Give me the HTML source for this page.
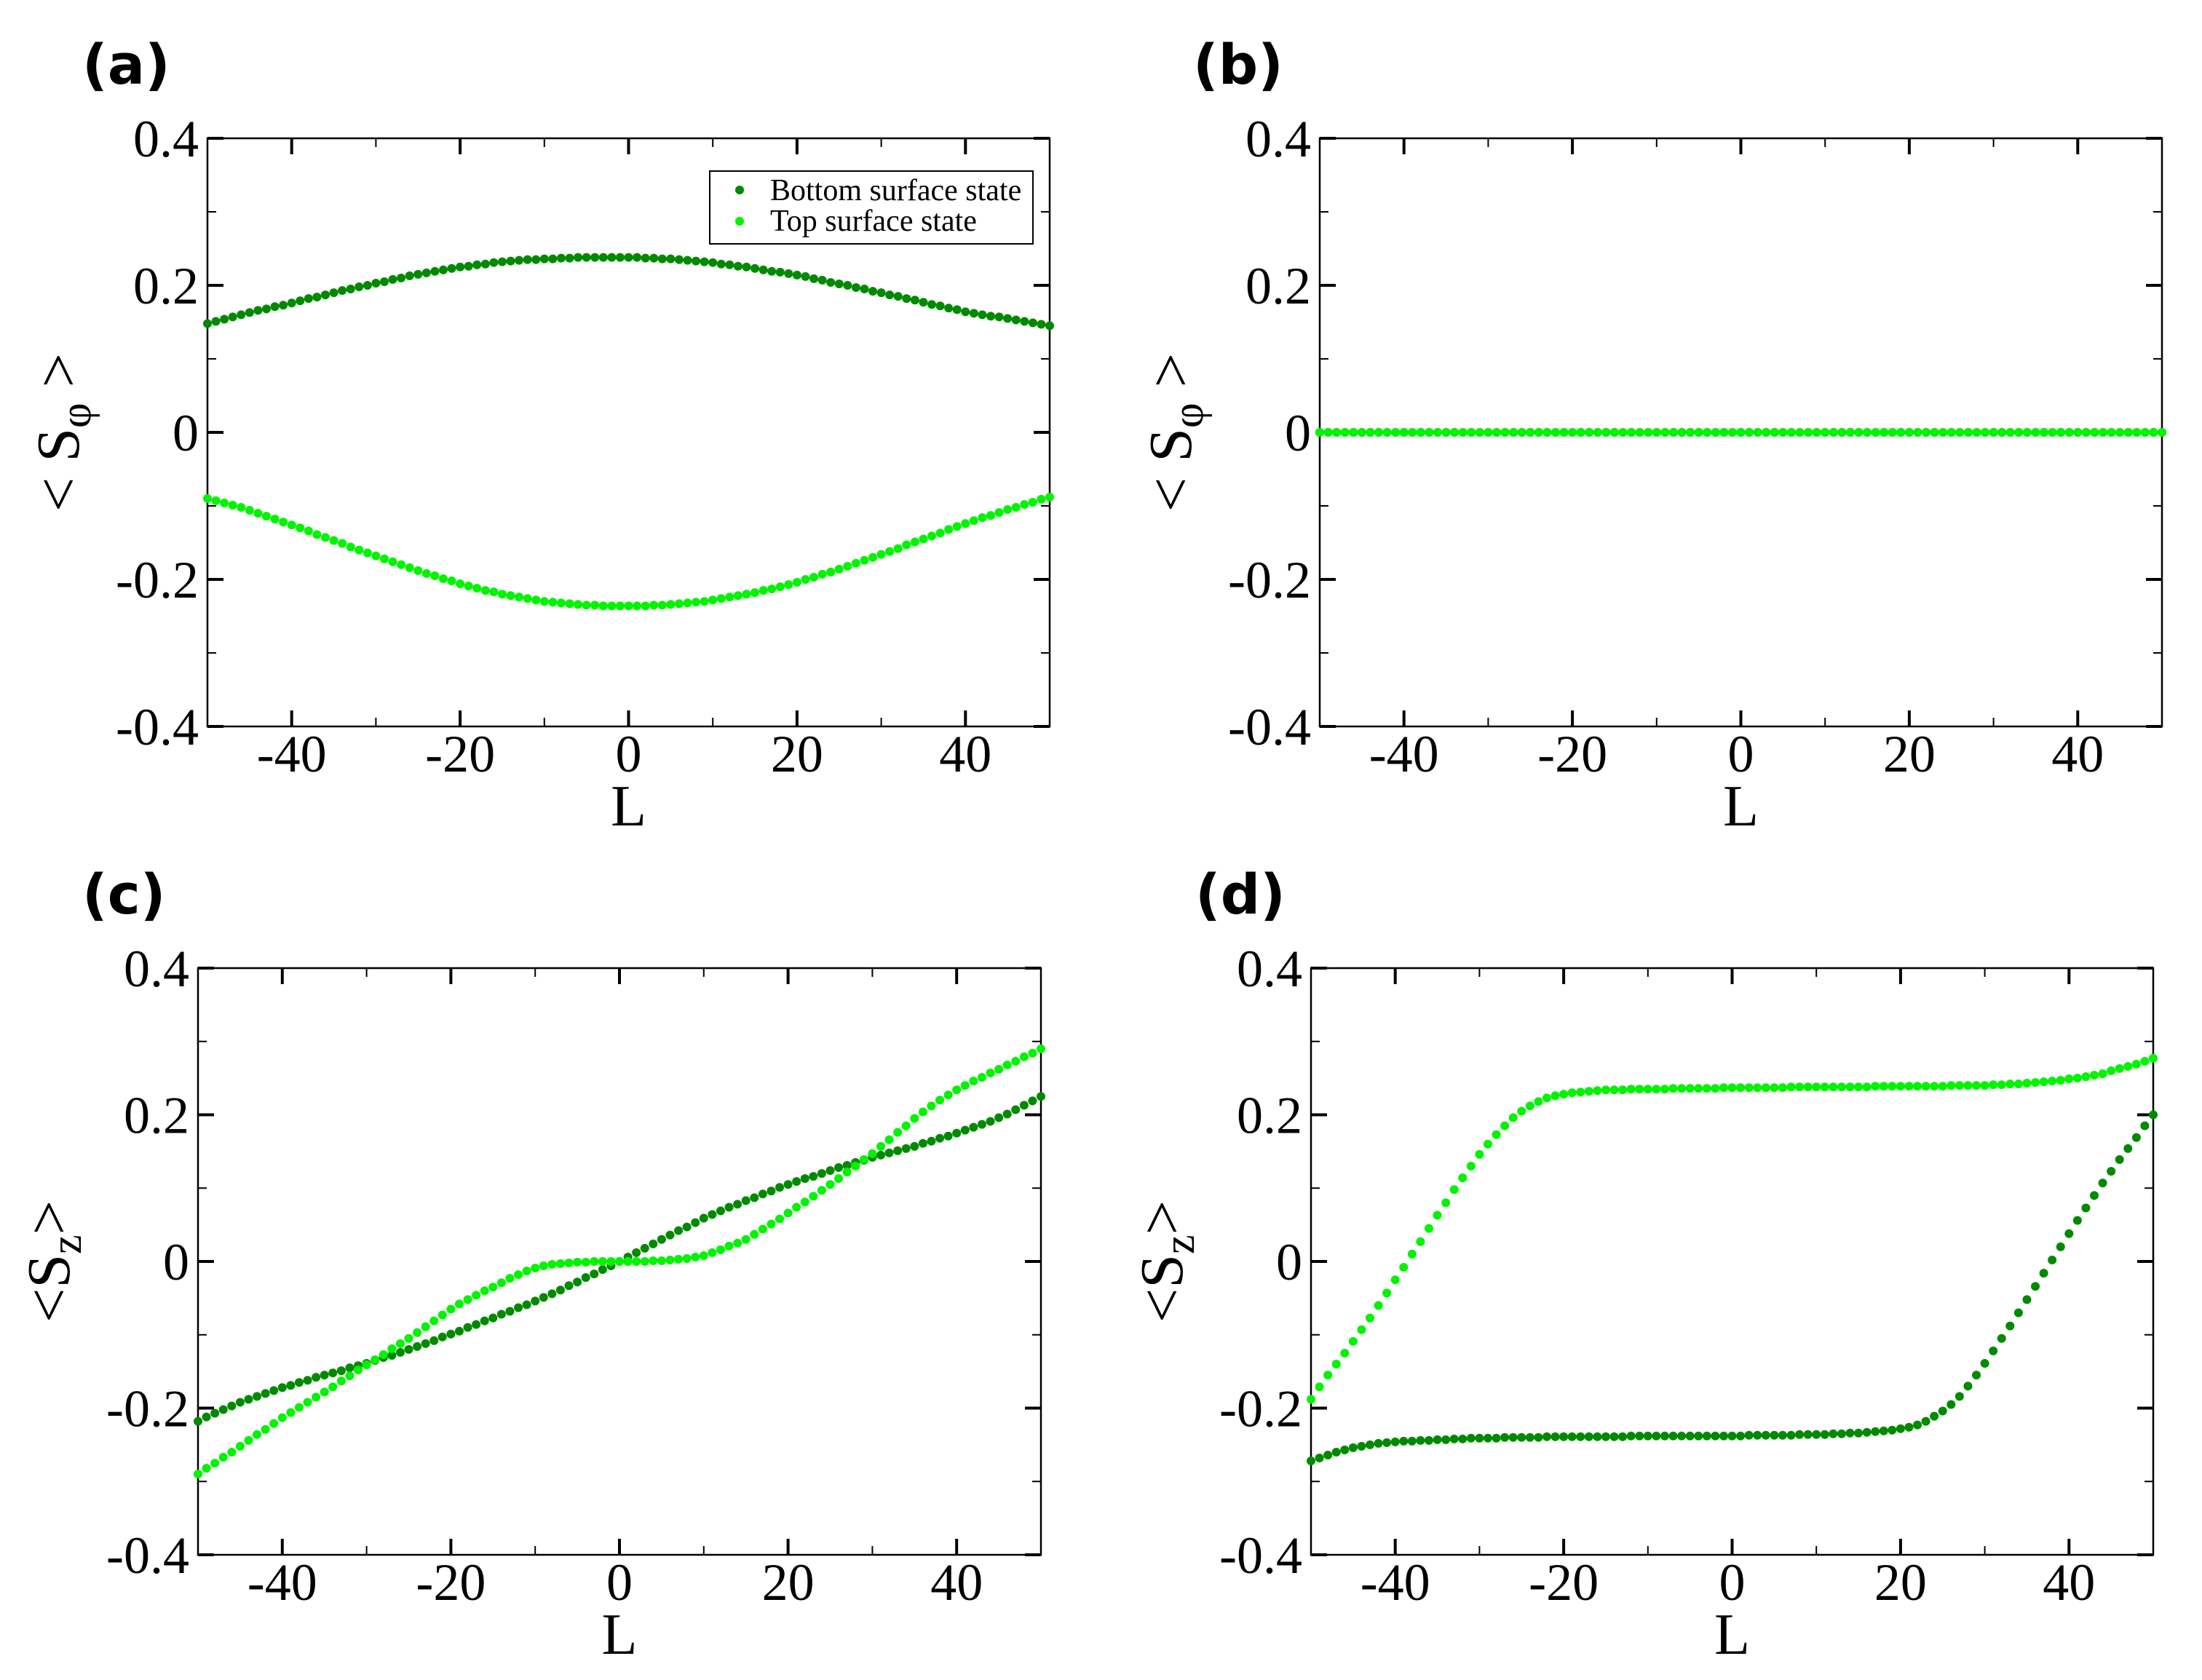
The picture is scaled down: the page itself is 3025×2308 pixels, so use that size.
<!DOCTYPE html>
<html><head><meta charset="utf-8">
<style>
html,body{margin:0;padding:0;background:#fff;}
svg{display:block;}
text{font-family:"Liberation Serif",serif;}
.plab{font-family:"DejaVu Sans","Liberation Sans",sans-serif;font-weight:bold;font-size:76px;}
</style></head>
<body>
<svg id="fig" width="3025" height="2308" viewBox="0 0 3025 2308" xmlns="http://www.w3.org/2000/svg"></svg>
<script>
const Lvals = [];
for (let i = -50; i <= 50; i++) Lvals.push(i);
const xTicks = [-40,-20,0,20,40];
const xTickLabels = ["-40","-20","0","20","40"];
const yTicks = [0.4,0.2,0,-0.2,-0.4];
const yTickLabels = ["0.4","0.2","0","-0.2","-0.4"];
const seriesNames = ["Bottom surface state","Top surface state"];

const aBottom = [.148,.151,.154,.157,.160,.163,.166,.168,.171,.173,.176,.179,.182,.184,.187,.190,.193,.195,.198,.200,.203,.205,.208,.210,.213,.215,.217,.219,.221,.223,.225,.226,.228,.229,.231,.232,.233,.234,.235,.235,.236,.236,.237,.237,.238,.238,.238,.238,.238,.238,.238,.238,.237,.237,.236,.236,.235,.234,.233,.232,.231,.229,.228,.226,.225,.223,.221,.219,.218,.216,.214,.212,.209,.207,.204,.202,.200,.197,.195,.192,.190,.187,.185,.182,.180,.177,.174,.172,.169,.167,.164,.162,.160,.158,.157,.155,.153,.151,.149,.147,.145];
const aTop = [-.090,-.093,-.096,-.099,-.102,-.106,-.110,-.114,-.118,-.122,-.126,-.130,-.134,-.139,-.143,-.147,-.151,-.156,-.160,-.164,-.168,-.172,-.176,-.180,-.184,-.188,-.192,-.195,-.199,-.202,-.206,-.209,-.212,-.215,-.217,-.220,-.222,-.224,-.226,-.228,-.230,-.231,-.232,-.233,-.234,-.235,-.235,-.236,-.236,-.236,-.236,-.236,-.236,-.235,-.235,-.234,-.233,-.232,-.231,-.230,-.228,-.226,-.224,-.222,-.220,-.218,-.215,-.213,-.210,-.207,-.204,-.200,-.197,-.193,-.190,-.186,-.182,-.178,-.174,-.170,-.166,-.162,-.158,-.153,-.149,-.145,-.141,-.137,-.132,-.128,-.124,-.120,-.116,-.113,-.109,-.105,-.102,-.098,-.095,-.091,-.088];
const bBottom = [0,0,0,0,0,0,0,0,0,0,0,0,0,0,0,0,0,0,0,0,0,0,0,0,0,0,0,0,0,0,0,0,0,0,0,0,0,0,0,0,0,0,0,0,0,0,0,0,0,0,0,0,0,0,0,0,0,0,0,0,0,0,0,0,0,0,0,0,0,0,0,0,0,0,0,0,0,0,0,0,0,0,0,0,0,0,0,0,0,0,0,0,0,0,0,0,0,0,0,0,0];
const bTop = [0,0,0,0,0,0,0,0,0,0,0,0,0,0,0,0,0,0,0,0,0,0,0,0,0,0,0,0,0,0,0,0,0,0,0,0,0,0,0,0,0,0,0,0,0,0,0,0,0,0,0,0,0,0,0,0,0,0,0,0,0,0,0,0,0,0,0,0,0,0,0,0,0,0,0,0,0,0,0,0,0,0,0,0,0,0,0,0,0,0,0,0,0,0,0,0,0,0,0,0,0];
const cBottom = [-.218,-.212,-.207,-.202,-.197,-.192,-.188,-.184,-.180,-.176,-.172,-.169,-.165,-.162,-.158,-.155,-.152,-.149,-.145,-.142,-.139,-.135,-.131,-.128,-.124,-.120,-.116,-.112,-.108,-.103,-.099,-.095,-.090,-.086,-.081,-.077,-.072,-.068,-.063,-.059,-.054,-.049,-.044,-.039,-.033,-.028,-.022,-.017,-.011,-.006,0,.006,.012,.018,.024,.030,.036,.042,.047,.053,.059,.064,.069,.074,.078,.083,.087,.092,.096,.101,.105,.109,.113,.116,.120,.124,.128,.131,.135,.138,.142,.145,.148,.151,.154,.157,.161,.164,.168,.171,.175,.179,.183,.187,.191,.196,.201,.207,.213,.219,.225];
const cTop = [-.290,-.282,-.275,-.267,-.260,-.252,-.244,-.236,-.229,-.221,-.213,-.206,-.199,-.192,-.185,-.178,-.171,-.163,-.156,-.148,-.141,-.134,-.127,-.119,-.112,-.105,-.097,-.089,-.081,-.073,-.065,-.058,-.052,-.046,-.040,-.035,-.029,-.023,-.018,-.013,-.009,-.006,-.004,-.003,-.002,-.001,-.001,0,0,0,0,0,0,0,.001,.001,.002,.003,.004,.006,.008,.012,.016,.021,.025,.030,.037,.044,.051,.058,.066,.074,.081,.089,.097,.105,.113,.122,.130,.139,.147,.157,.166,.176,.185,.195,.204,.212,.220,.227,.234,.240,.246,.251,.257,.262,.268,.273,.279,.284,.290,.295];
const dBottom = [-.272,-.268,-.264,-.260,-.257,-.254,-.252,-.250,-.248,-.247,-.246,-.245,-.245,-.244,-.244,-.243,-.243,-.242,-.242,-.241,-.241,-.241,-.241,-.240,-.240,-.240,-.240,-.240,-.239,-.239,-.239,-.239,-.239,-.239,-.239,-.239,-.239,-.239,-.238,-.238,-.238,-.238,-.238,-.238,-.238,-.238,-.238,-.238,-.238,-.238,-.238,-.238,-.237,-.237,-.237,-.237,-.237,-.237,-.236,-.236,-.236,-.236,-.235,-.235,-.234,-.234,-.233,-.232,-.231,-.230,-.228,-.226,-.223,-.218,-.211,-.204,-.195,-.184,-.170,-.155,-.139,-.122,-.105,-.088,-.070,-.052,-.034,-.016,.002,.020,.038,.056,.073,.090,.107,.123,.139,.154,.169,.185,.200];
const dTop = [-.188,-.171,-.155,-.140,-.125,-.109,-.093,-.077,-.060,-.043,-.025,-.008,.010,.027,.045,.063,.080,.098,.114,.130,.146,.160,.173,.185,.196,.205,.212,.218,.223,.226,.228,.230,.231,.232,.233,.234,.234,.234,.235,.235,.235,.235,.235,.236,.236,.236,.236,.236,.236,.237,.237,.237,.237,.237,.237,.237,.237,.238,.238,.238,.238,.238,.238,.238,.238,.238,.238,.239,.239,.239,.239,.239,.239,.239,.239,.239,.240,.240,.240,.240,.240,.241,.241,.242,.242,.243,.244,.245,.246,.247,.249,.250,.252,.254,.256,.260,.263,.266,.269,.273,.277];

const panels = [
  {id:"a", x0:285, x1:1442, y0:190, y1:998, sub:"φ", sp:" ", bot:aBottom, top:aTop, lx:113, ly:115, legend:true},
  {id:"b", x0:1813, x1:2970, y0:190, y1:998, sub:"φ", sp:" ", bot:bBottom, top:bTop, lx:1639, ly:115, legend:false},
  {id:"c", x0:272, x1:1430, y0:1330, y1:2136, sub:"z", sp:"", bot:cBottom, top:cTop, lx:113, ly:1255, legend:false},
  {id:"d", x0:1801, x1:2958, y0:1330, y1:2136, sub:"z", sp:"", bot:dBottom, top:dTop, lx:1642, ly:1255, legend:false}
];
const NS = "http://www.w3.org/2000/svg";
const fig = document.getElementById("fig");
function mk(tag, attrs, parent){ const e=document.createElementNS(NS,tag); for(const k in attrs) e.setAttribute(k,attrs[k]); (parent||fig).appendChild(e); return e; }

panels.forEach(p=>{
  const g = mk("g",{});
  
  
  const sx = v => p.x0 + (v+50)/100*(p.x1-p.x0);
  const sy = v => p.y1 - (v+0.4)/0.8*(p.y1-p.y0);
  const fr = mk("rect",{x:p.x0,y:p.y0,width:p.x1-p.x0,height:p.y1-p.y0,fill:"none",stroke:"#000","stroke-width":2.5},g);
  
  
  for(let v=-50; v<=50; v+=10){
    const isMaj = xTicks.indexOf(v)>=0;
    const len = isMaj?22:12, w = isMaj?4:2;
    mk("line",{x1:sx(v),x2:sx(v),y1:p.y1,y2:p.y1-len,stroke:"#000","stroke-width":w},g);
    mk("line",{x1:sx(v),x2:sx(v),y1:p.y0,y2:p.y0+len,stroke:"#000","stroke-width":w},g);
  }
  for(let k=-4;k<=4;k++){
    const v=k/10; const isMaj = (k%2===0);
    const len = isMaj?22:12, w = isMaj?4:2;
    mk("line",{x1:p.x0,x2:p.x0+len,y1:sy(v),y2:sy(v),stroke:"#000","stroke-width":w},g);
    mk("line",{x1:p.x1,x2:p.x1-len,y1:sy(v),y2:sy(v),stroke:"#000","stroke-width":w},g);
  }
  xTicks.forEach((v,i)=>{
    const t = mk("text",{x:sx(v),y:p.y1+62,"font-size":72,"text-anchor":"middle"},g);
    t.textContent = xTickLabels[i];
    
    
  });
  yTicks.forEach((v,i)=>{
    const t = mk("text",{x:p.x0-12,y:sy(v)+25,"font-size":72,"text-anchor":"end"},g);
    t.textContent = yTickLabels[i];
    
    
  });
  const xt = mk("text",{x:(p.x0+p.x1)/2,y:p.y1+136,"font-size":80,"text-anchor":"middle"},g);
  xt.textContent = "L";
  
  
  const cy = (p.y0+p.y1)/2, cx = p.x0-199;
  const yt = mk("text",{x:cx,y:cy,"font-size":84,"text-anchor":"middle",transform:`rotate(-90 ${cx} ${cy}) translate(0 22)`},g);
  
  
  const t1 = mk("tspan",{},yt); t1.textContent = "<"+p.sp+"S";
  const t2 = mk("tspan",{dy:16,"font-size":60},yt); t2.textContent = p.sub;
  const t3 = mk("tspan",{dy:-16},yt); t3.textContent = p.sp+">";
  const pl = mk("text",{x:p.lx,y:p.ly,class:"plab"},g);
  pl.textContent = "("+p.id+")";
  
  
  const sb = mk("g",{fill:"#008a00"},g);
  
  
  p.bot.forEach((v,i)=>{
    if(i>=Lvals.length) return;
    const c = mk("circle",{cx:sx(Lvals[i]),cy:sy(v),r:6},sb);
    
    
  });
  const st = mk("g",{fill:"#00f400"},g);
  
  
  p.top.forEach((v,i)=>{
    if(i>=Lvals.length) return;
    const c = mk("circle",{cx:sx(Lvals[i]),cy:sy(v),r:6},st);
    
    
  });
  if(p.legend){
    const lg = mk("g",{},g);
    
    
    mk("rect",{x:975,y:235,width:444,height:100,fill:"#fff",stroke:"#000","stroke-width":2},lg);
    const cols = ["#008a00","#00f400"];
    seriesNames.forEach((n,i)=>{
      const m = mk("circle",{cx:1016,cy:261+i*43,r:6,fill:cols[i]},lg);
      
      
      const t = mk("text",{x:1058,y:275+i*42,"font-size":42},lg);
      t.textContent = n;
      
      
    });
  }
});
</script>
</body></html>
